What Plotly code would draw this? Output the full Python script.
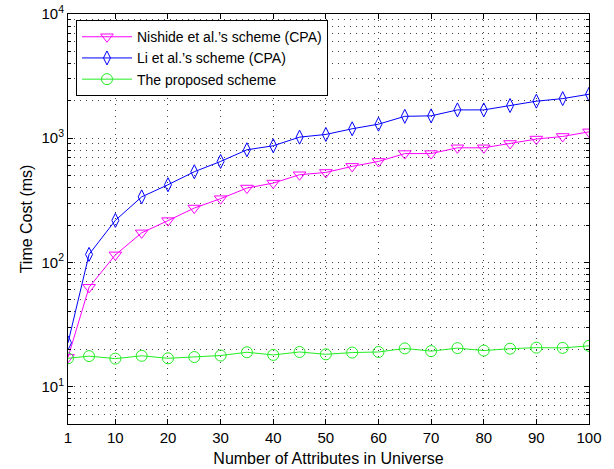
import plotly.graph_objects as go

x_vals = [1, 5, 10, 15, 20, 25, 30, 35, 40, 45, 50, 55, 60, 65, 70, 75, 80, 85, 90, 95, 100]
nishide = [17.2, 63, 115, 173, 217, 274, 326, 397, 435, 508, 530, 593, 650, 752, 752, 837, 837, 907, 984, 1033, 1125]
li = [22.5, 116, 218, 337, 422, 537, 650, 807, 869, 1020, 1072, 1191, 1297, 1500, 1514, 1690, 1690, 1833, 1986, 2084, 2259]
proposed = [16.9, 17.6, 16.8, 17.7, 16.9, 17.3, 17.8, 18.9, 18.0, 19.0, 18.2, 18.8, 19.0, 20.3, 19.3, 20.4, 19.5, 20.2, 20.6, 20.5, 21.3]

names = ["Nishide et al.’s scheme (CPA)", "Li et al.’s scheme (CPA)", "The proposed scheme"]
x_ticks = [1, 10, 20, 30, 40, 50, 60, 70, 80, 90, 100]
y_ticks = [10, 100, 1000, 10000]
y_ticktext = ["10<sup>1</sup>", "10<sup>2</sup>", "10<sup>3</sup>", "10<sup>4</sup>"]
y_minor = [k * 10 ** p for p in range(0, 4) for k in range(2, 10) if k * 10 ** p >= 5]

FONT = "Liberation Sans, Arial, Helvetica, sans-serif"
GRID = dict(color="#444444", dash="1px,5px")

fig = go.Figure()
fig.add_trace(go.Scatter(x=x_vals, y=nishide, name=names[0], mode="lines+markers",
                         line=dict(color="#ff00ff", width=1),
                         marker=dict(symbol="triangle-down-open", size=11, color="#ff00ff", line=dict(width=1))))
fig.add_trace(go.Scatter(x=x_vals, y=li, name=names[1], mode="lines+markers",
                         line=dict(color="#0000ff", width=1),
                         marker=dict(symbol="diamond-tall-open", size=10, color="#0000ff", line=dict(width=1))))
fig.add_trace(go.Scatter(x=x_vals, y=proposed, name=names[2], mode="lines+markers",
                         line=dict(color="#22ee22", width=1),
                         marker=dict(symbol="circle-open", size=11, color="#22ee22", line=dict(width=1))))

fig.update_layout(
    width=614, height=469,
    margin=dict(l=68, r=25, t=14, b=45, autoexpand=False),
    paper_bgcolor="white", plot_bgcolor="white",
    font=dict(family=FONT, size=15, color="black"),
    showlegend=True,
    legend=dict(x=0.0153, y=0.985, xanchor="left", yanchor="top",
                bgcolor="white", bordercolor="black", borderwidth=1,
                font=dict(size=14), tracegroupgap=0, itemwidth=50),
    xaxis=dict(range=[1, 100], tickmode="array", tickvals=x_ticks, automargin=False,
               ticks="inside", ticklen=5, tickcolor="black",
               showline=True, linecolor="black", linewidth=1, mirror="allticks",
               showgrid=True, gridcolor=GRID["color"], griddash=GRID["dash"], gridwidth=1,
               zeroline=False, ticklabeloverflow="allow",
               title=dict(text="Number of Attributes in Universe", font=dict(size=16), standoff=7)),
    yaxis=dict(type="log", range=[0.69897, 4], tickmode="array", tickvals=y_ticks, ticktext=y_ticktext,
               automargin=False, ticklabeloverflow="allow",
               ticks="inside", ticklen=5, tickcolor="black",
               showline=True, linecolor="black", linewidth=1, mirror="allticks",
               showgrid=True, gridcolor=GRID["color"], griddash=GRID["dash"], gridwidth=1,
               zeroline=False,
               minor=dict(tickmode="array", tickvals=y_minor, ticks="inside", ticklen=3, tickcolor="black",
                          showgrid=True, gridcolor=GRID["color"], griddash=GRID["dash"], gridwidth=1),
               title=dict(text="Time Cost (ms)", font=dict(size=16), standoff=4)),
)

# remove the browser's default 8px body margin so the figure sits at the window's corner
fig.write_html("out.html", config={"displayModeBar": False},
               post_script="document.body.style.margin='0';")
